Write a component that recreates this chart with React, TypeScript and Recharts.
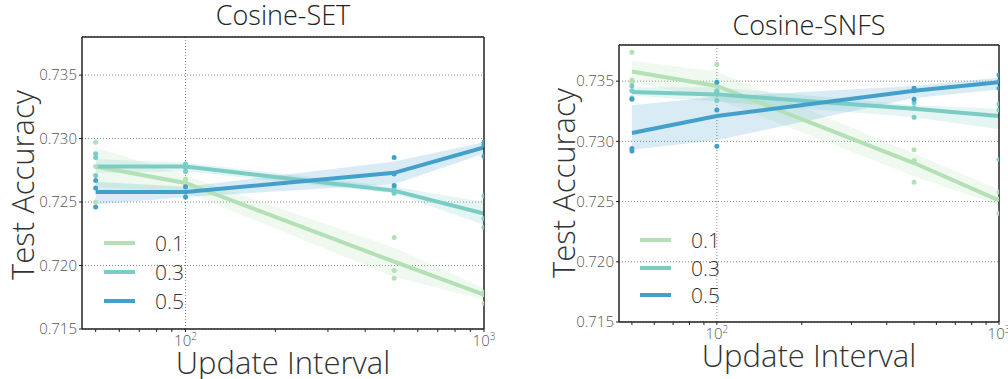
import React from 'react';
import {
  ComposedChart,
  Area,
  Line,
  Scatter,
  XAxis,
  YAxis,
  CartesianGrid,
  ReferenceLine,
} from 'recharts';

const intervals = [50, 100, 500, 1000];
const densities = ['0.1', '0.3', '0.5'];
const colors = ['#b3e0b4', '#7accc4', '#43a0cb'];
const yTicks = [0.715, 0.72, 0.725, 0.73, 0.735];
const xTicks = [50, 60, 70, 80, 90, 100, 200, 300, 400, 500, 600, 700, 800, 900, 1000];

// Cosine-SET
const setMean01 = [0.7278, 0.7265, 0.7203, 0.7177];
const setMean03 = [0.7278, 0.7278, 0.7259, 0.7241];
const setMean05 = [0.7258, 0.7258, 0.7273, 0.7293];
const setLo01 = [0.7262, 0.7258, 0.7191, 0.7173];
const setHi01 = [0.7293, 0.7271, 0.7214, 0.7182];
const setLo03 = [0.7273, 0.7274, 0.7257, 0.7232];
const setHi03 = [0.7284, 0.7281, 0.7262, 0.725];
const setLo05 = [0.7248, 0.7254, 0.7264, 0.7288];
const setHi05 = [0.7266, 0.7262, 0.7282, 0.7297];
const setRuns01 = [[0.7297, 0.7278, 0.725], [0.7268, 0.7262, 0.7265], [0.7222, 0.7196, 0.719], [0.7179, 0.7177, 0.717]];
const setRuns03 = [[0.7288, 0.7285, 0.7271], [0.728, 0.7277, 0.7274], [0.7261, 0.7259, 0.7257], [0.7255, 0.7237, 0.723]];
const setRuns05 = [[0.7267, 0.7261, 0.7246], [0.7262, 0.7258, 0.7254], [0.7285, 0.7272, 0.7263], [0.7297, 0.7295, 0.7286]];

// Cosine-SNFS
const snfsMean01 = [0.7358, 0.7346, 0.7282, 0.7251];
const snfsMean03 = [0.7341, 0.7339, 0.7327, 0.7321];
const snfsMean05 = [0.7307, 0.7321, 0.7342, 0.7349];
const snfsLo01 = [0.7349, 0.7335, 0.7271, 0.7247];
const snfsHi01 = [0.7367, 0.7358, 0.729, 0.726];
const snfsLo03 = [0.7338, 0.7333, 0.732, 0.731];
const snfsHi03 = [0.7345, 0.7345, 0.733, 0.7327];
const snfsLo05 = [0.7293, 0.7301, 0.7336, 0.7343];
const snfsHi05 = [0.733, 0.7337, 0.7346, 0.7353];
const snfsRuns01 = [[0.7374, 0.7351, 0.7349], [0.7364, 0.7349, 0.7326], [0.7293, 0.7284, 0.7266], [0.7258, 0.7252, 0.724]];
const snfsRuns03 = [[0.7346, 0.7342, 0.7336], [0.7342, 0.7341, 0.7334], [0.7332, 0.7328, 0.732], [0.7331, 0.7326, 0.7285]];
const snfsRuns05 = [[0.7335, 0.7294, 0.7292], [0.7349, 0.7326, 0.7296], [0.7344, 0.7342, 0.7335], [0.7355, 0.735, 0.7344]];

const font = '"Open Sans", sans-serif';

type Panel = {
  title: string;
  means: number[][];
  lows: number[][];
  highs: number[][];
  runs: number[][][];
};

const panels: Panel[] = [
  {
    title: 'Cosine-SET',
    means: [setMean01, setMean03, setMean05],
    lows: [setLo01, setLo03, setLo05],
    highs: [setHi01, setHi03, setHi05],
    runs: [setRuns01, setRuns03, setRuns05],
  },
  {
    title: 'Cosine-SNFS',
    means: [snfsMean01, snfsMean03, snfsMean05],
    lows: [snfsLo01, snfsLo03, snfsLo05],
    highs: [snfsHi01, snfsHi03, snfsHi05],
    runs: [snfsRuns01, snfsRuns03, snfsRuns05],
  },
];

const XTick = (props: any) => {
  const { x, y, payload } = props;
  const v = payload.value;
  if (v !== 100 && v !== 1000) return null;
  const exp = v === 100 ? '2' : '3';
  return (
    <text x={x} y={y + 12} textAnchor="middle" fontFamily={font} fontWeight={300} fontSize={15} fill="#555">
      <tspan>10</tspan>
      <tspan dy={-6} fontSize={10}>{exp}</tspan>
    </text>
  );
};

const Dot = (color: string) => (p: any) => <circle cx={p.cx} cy={p.cy} r={2.5} fill={color} />;

type Layout = {
  left: number;
  top: number;
  width: number;
  margin: { top: number; right: number; bottom: number; left: number };
  titleY: number;
  yLabelX: number;
  yLabelY: number;
  xLabelY: number;
  legendX: number;
  legendY: number;
  legendGap: number;
};

const layouts: Layout[] = [
  {
    left: 0, top: 0, width: 500,
    margin: { top: 37, right: 16, bottom: 20, left: 22 },
    titleY: 15, yLabelX: 22, yLabelY: 185, xLabelY: 362,
    legendX: 104, legendY: 243, legendGap: 29,
  },
  {
    left: 520, top: 0, width: 488,
    margin: { top: 45, right: 9, bottom: 27, left: 39 },
    titleY: 25, yLabelX: 563, yLabelY: 183, xLabelY: 355,
    legendX: 640, legendY: 240, legendGap: 27.5,
  },
];

const frame = { stroke: '#222', strokeWidth: 1.5 };

const PanelChart = ({ panel, lay }: { panel: Panel; lay: Layout }) => {
  const rows = intervals.map((x, i) => ({
    x,
    m0: panel.means[0][i],
    m1: panel.means[1][i],
    m2: panel.means[2][i],
    b0: [panel.lows[0][i], panel.highs[0][i]],
    b1: [panel.lows[1][i], panel.highs[1][i]],
    b2: [panel.lows[2][i], panel.highs[2][i]],
  }));
  const pts = panel.runs.map((r) =>
    r.flatMap((vals, i) => vals.map((y) => ({ x: intervals[i], y })))
  );
  const plotLeft = lay.left + lay.margin.left + 60;
  const plotRight = lay.left + lay.width - lay.margin.right;
  const cx = (plotLeft + plotRight) / 2;
  return (
    <>
      <div style={{ position: 'absolute', left: lay.left, top: lay.top }}>
        <ComposedChart width={lay.width} height={379} data={rows} margin={lay.margin}>
          <CartesianGrid vertical={false} stroke="#888" strokeDasharray="1 2" />
          <ReferenceLine x={100} stroke="#888" strokeDasharray="1 2" />
          <XAxis
            dataKey="x"
            type="number"
            scale="log"
            domain={[45, 1000]}
            allowDataOverflow
            ticks={xTicks}
            interval={0}
            tick={<XTick />}
            tickSize={3}
            axisLine={frame}
            tickLine={{ stroke: '#222' }}
            height={30}
          />
          <YAxis
            type="number"
            domain={[0.715, 0.738]}
            allowDataOverflow
            ticks={yTicks}
            interval={0}
            tickFormatter={(v: number) => v.toFixed(3)}
            tick={{ fontFamily: font, fontWeight: 300, fontSize: 15, fill: '#555' }}
            tickSize={3}
            axisLine={frame}
            tickLine={{ stroke: '#222' }}
            width={60}
          />
          {colors.map((c, k) => (
            <Area
              key={`b${k}`}
              type="linear"
              dataKey={`b${k}`}
              stroke="none"
              fill={c}
              fillOpacity={0.2}
              isAnimationActive={false}
            />
          ))}
          {colors.map((c, k) => (
            <Line
              key={`m${k}`}
              type="linear"
              dataKey={`m${k}`}
              stroke={c}
              strokeWidth={4}
              dot={false}
              isAnimationActive={false}
            />
          ))}
          {colors.map((c, k) => (
            <Scatter
              key={`s${k}`}
              data={pts[k]}
              dataKey="y"
              shape={Dot(c)}
              isAnimationActive={false}
            />
          ))}
          <ReferenceLine y={0.738} {...frame} />
          <ReferenceLine x={1000} {...frame} />
        </ComposedChart>
      </div>
      <div
        style={{
          position: 'absolute', left: cx - 150, width: 300, top: lay.titleY - 20,
          textAlign: 'center', fontFamily: font, fontWeight: 300, fontSize: 27, color: '#222', lineHeight: '40px',
        }}
      >
        {panel.title}
      </div>
      <div
        style={{
          position: 'absolute', left: lay.yLabelX - 150, top: lay.yLabelY - 20, width: 300,
          textAlign: 'center', fontFamily: font, fontWeight: 300, fontSize: 31, color: '#333',
          lineHeight: '40px', transform: 'rotate(-90deg)',
        }}
      >
        Test Accuracy
      </div>
      <div
        style={{
          position: 'absolute', left: cx - 150, width: 300, top: lay.xLabelY - 20,
          textAlign: 'center', fontFamily: font, fontWeight: 300, fontSize: 31, color: '#333',
          lineHeight: '40px',
        }}
      >
        Update Interval
      </div>
      {densities.map((d, k) => (
        <div
          key={d}
          style={{
            position: 'absolute', left: lay.legendX, top: lay.legendY + k * lay.legendGap - 14,
            height: 28, display: 'flex', alignItems: 'center',
          }}
        >
          <div style={{ width: 31, height: 4, background: colors[k] }} />
          <span style={{ marginLeft: 20, fontFamily: font, fontWeight: 300, fontSize: 21, color: '#333' }}>{d}</span>
        </div>
      ))}
    </>
  );
};

export default function App() {
  return (
    <div style={{ position: 'absolute', left: 0, top: 0, width: 1008, height: 379, background: '#fff' }}>
      {panels.map((p, i) => (
        <PanelChart key={p.title} panel={p} lay={layouts[i]} />
      ))}
    </div>
  );
}
